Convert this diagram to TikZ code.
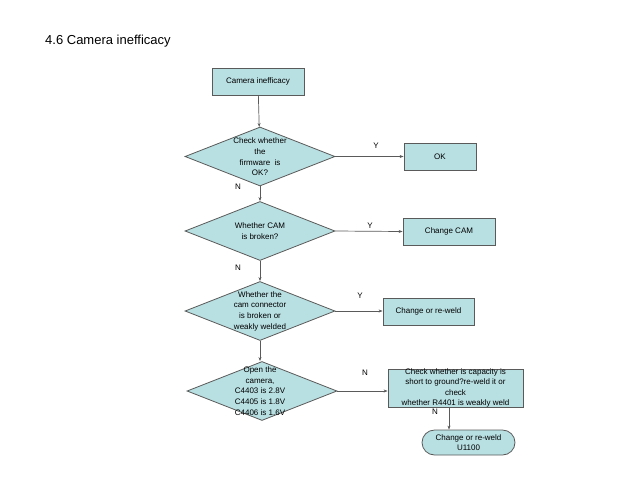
\documentclass[tikz,border=0pt]{standalone}
\usepackage{fontspec}
\setmainfont{Liberation Sans}
\usetikzlibrary{shapes.geometric,shapes.misc,arrows.meta}
\definecolor{boxfill}{HTML}{B8DFE2}
\definecolor{edgec}{HTML}{5A5A5A}
\tikzset{
  procbox/.style={draw=edgec, line width=0.8pt, fill=boxfill, minimum width=#1, minimum height=27pt, inner sep=0pt, font=\fontsize{8}{10}\selectfont},
  dia/.style={draw=edgec, line width=0.8pt, fill=boxfill, diamond, minimum width=150pt, minimum height=59pt, inner sep=0pt, aspect=2.54},
  dtext/.style={align=center, font=\fontsize{8}{10.7}\selectfont, inner sep=0pt},
  term/.style={draw=edgec, line width=0.8pt, fill=boxfill, rounded rectangle, minimum width=93pt, minimum height=25pt, inner sep=0pt, align=center, font=\fontsize{8}{10}\selectfont},
  arr/.style={draw=edgec, line width=0.7pt, -{Stealth[length=4pt,width=3pt]}},
  lbl/.style={font=\fontsize{8}{10}\selectfont, inner sep=0pt}
}
\begin{document}
\begin{tikzpicture}[x=1pt,y=-1pt]
\useasboundingbox (0,0) rectangle (640,480);
\node[anchor=west, font=\fontsize{13}{15}\selectfont, inner sep=0pt] (title) at (45,41) {4.6 Camera inefficacy};

\node[procbox=92pt] (start) at (258,81.5) {Camera inefficacy};

\node[dia] (d1) at (260,156.5) {};
\node[dtext] (t1) at (260,157) {Check whether\\the\\firmware\ \ is\\OK?};
\node[dia] (d2) at (260,231) {};
\node[dtext] (t2) at (260,231) {Whether CAM\\is broken?};
\node[dia] (d3) at (260,311) {};
\node[dtext] (t3) at (260,311) {Whether the\\cam connector\\is broken or\\weakly welded};
\node[dia] (d4) at (262,391) {};
\node[dtext] (t4) at (260,391) {Open the\\camera,\\C4403 is 2.8V\\C4405 is 1.8V\\C4406 is 1.6V};

\node[procbox=72pt] (ok) at (440,156.5) {OK};
\node[procbox=92pt] (cam) at (449,231.5) {Change CAM};
\node[procbox=91pt] (weld) at (428.5,311.5) {Change or re-weld};
\node[procbox=135pt, minimum height=38pt, align=center, font=\fontsize{8}{10.2}\selectfont] (chk) at (455.5,388) {Check whether is capacity is\\short to ground?re-weld it or\\check\\whether R4401 is weakly weld};
\node[term] (u) at (468.5,442.5) {Change or re-weld\\U1100};

\draw[arr] (start) -- (d1);
\draw[arr] (d1) -- (d2);
\draw[arr] (d2) -- (d3);
\draw[arr] (d3.south) -- (d4.north -| d3.south);
\draw[arr] (d1.east) -- (ok.west);
\draw[arr] (d2.east) -- (cam.west);
\draw[arr] (d3.east) -- (weld.west |- d3.east);
\draw[arr] (d4.east) -- (chk.west |- d4.east);
\draw[arr] ([xshift=-6.5pt]chk.south) -- ([xshift=-19.5pt]u.north);

\node[lbl] (y1) at (376,146) {Y};
\node[lbl] (n1) at (238,187) {N};
\node[lbl] (y2) at (370,226) {Y};
\node[lbl] (n2) at (238,268) {N};
\node[lbl] (y3) at (360,296) {Y};
\node[lbl] (n3) at (365,373) {N};
\node[lbl] (n4) at (435,412) {N};
\end{tikzpicture}
\end{document}
